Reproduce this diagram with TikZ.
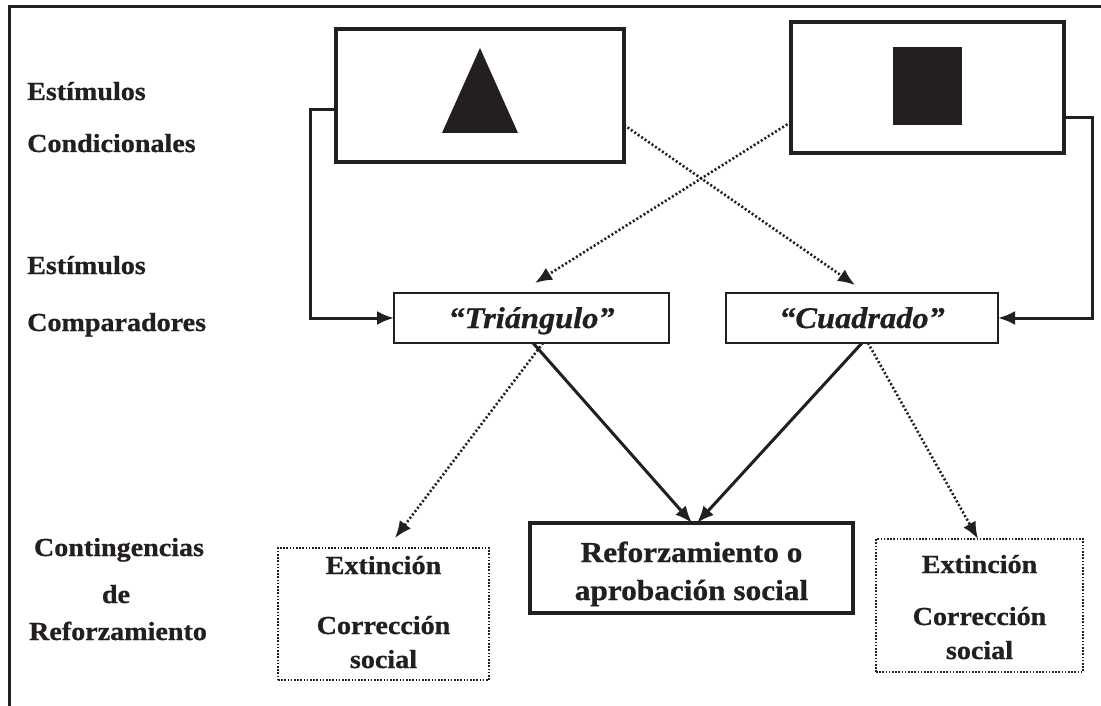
\documentclass[tikz,border=0pt]{standalone}
\usepackage{fontspec}
\setmainfont{Liberation Serif}[FakeStretch=1.08, BoldFeatures={FakeBold=0.8}, BoldItalicFeatures={FakeBold=0.8}]
\usetikzlibrary{arrows.meta}
\definecolor{ink}{HTML}{231F20}
\begin{document}
\begin{tikzpicture}[x=1bp,y=-1bp,
  box/.style={draw=ink, line width=3.3bp, inner sep=0pt, outer sep=0pt},
  thinbox/.style={draw=ink, line width=2bp, inner sep=0pt, outer sep=0pt},
  dotbox/.style={draw=ink, line width=2bp, dash pattern=on 1.6bp off 1.6bp, inner sep=0pt, outer sep=0pt},
  conn/.style={draw=ink, line width=3bp, -{Latex[length=17bp,width=14bp]}},
  dconn/.style={draw=ink, line width=2.6bp, dash pattern=on 2bp off 2.2bp, -{Latex[length=17bp,width=14bp]}},
  lab/.style={text=ink, font=\fontsize{26bp}{30bp}\selectfont\bfseries, anchor=base west, inner sep=0pt},
  labc/.style={text=ink, font=\fontsize{26bp}{30bp}\selectfont\bfseries, anchor=base, inner sep=0pt},
  big/.style={text=ink, font=\fontsize{29bp}{34bp}\selectfont\bfseries, anchor=base, inner sep=0pt},
  bigit/.style={text=ink, font=\fontsize{30bp}{34bp}\selectfont\bfseries\itshape, anchor=base, inner sep=0pt}
]
\useasboundingbox (0,0) rectangle (1101,706);
\fill[white] (0,0) rectangle (1101,706);
% frame
\draw[ink, line width=3bp] (9.5,706) -- (9.5,6.5) -- (1101,6.5);

% boxes
\node[box, minimum width=288bp, minimum height=133bp] (condL) at (480,95.5) {};
\node[box, minimum width=273bp, minimum height=131bp] (condR) at (927.5,87.5) {};
\fill[ink] (480,48) -- (518,133) -- (442,133) -- cycle;
\fill[ink] (893,47) rectangle (962,125);

\node[thinbox, minimum width=275bp, minimum height=50bp] (tri) at (531.5,318) {};
\node[thinbox, minimum width=272bp, minimum height=50bp] (cua) at (862,318) {};
\node[box, minimum width=323bp, minimum height=90bp] (ref) at (691.5,568) {};
\node[dotbox, minimum width=211bp, minimum height=132bp] (extL) at (383.5,614) {};
\node[dotbox, minimum width=207bp, minimum height=133bp] (extR) at (979.5,605.5) {};

% texts
\node[lab] (l1) at (27,100) {Estímulos};
\node[lab] (l2) at (27,152) {Condicionales};
\node[lab] (l3) at (27,274) {Estímulos};
\node[lab] (l4) at (27,331) {Comparadores};
\node[labc] (l5) at (119,556) {Contingencias};
\node[labc] (l6) at (116,603) {de};
\node[labc] (l7) at (118,640) {Reforzamiento};

\node[bigit] (ttri) at (531.5,328) {“Triángulo”};
\node[bigit] (tcua) at (862,328) {“Cuadrado”};
\node[big] (tr1) at (691.5,562) {Reforzamiento o};
\node[big] (tr2) at (691.5,600) {aprobación social};
\node[labc] (el1) at (383.5,574) {Extinción};
\node[labc] (el2) at (383.5,634) {Corrección};
\node[labc] (el3) at (383.5,668) {social};
\node[labc] (er1) at (979.5,573) {Extinción};
\node[labc] (er2) at (979.5,625) {Corrección};
\node[labc] (er3) at (979.5,659) {social};

% connectors
\draw[conn] ([yshift=-14.5bp]condL.west) -- ++(-26,0) |- (tri.west);
\draw[conn] ([yshift=-30.5bp]condR.east) -- ++(28,0) |- (cua.east);
\draw[dconn] ([yshift=-34.5bp]condR.west) -- ([xshift=3.5bp,yshift=10bp]tri.north);
\draw[dconn] ([yshift=-29.5bp]condL.east) -- ([xshift=-7bp,yshift=8bp]cua.north);
\draw[conn] ([xshift=1.5bp]tri.south) -- ([xshift=0.5bp]ref.north);
\draw[conn] (cua.south) -- ([xshift=5.5bp]ref.north);
\draw[dconn] ([xshift=11.5bp]tri.south) -- ([xshift=11.5bp,yshift=10bp]extL.north);
\draw[dconn] ([xshift=6bp]cua.south) -- ([xshift=-1.5bp]extR.north);
\end{tikzpicture}
\end{document}
